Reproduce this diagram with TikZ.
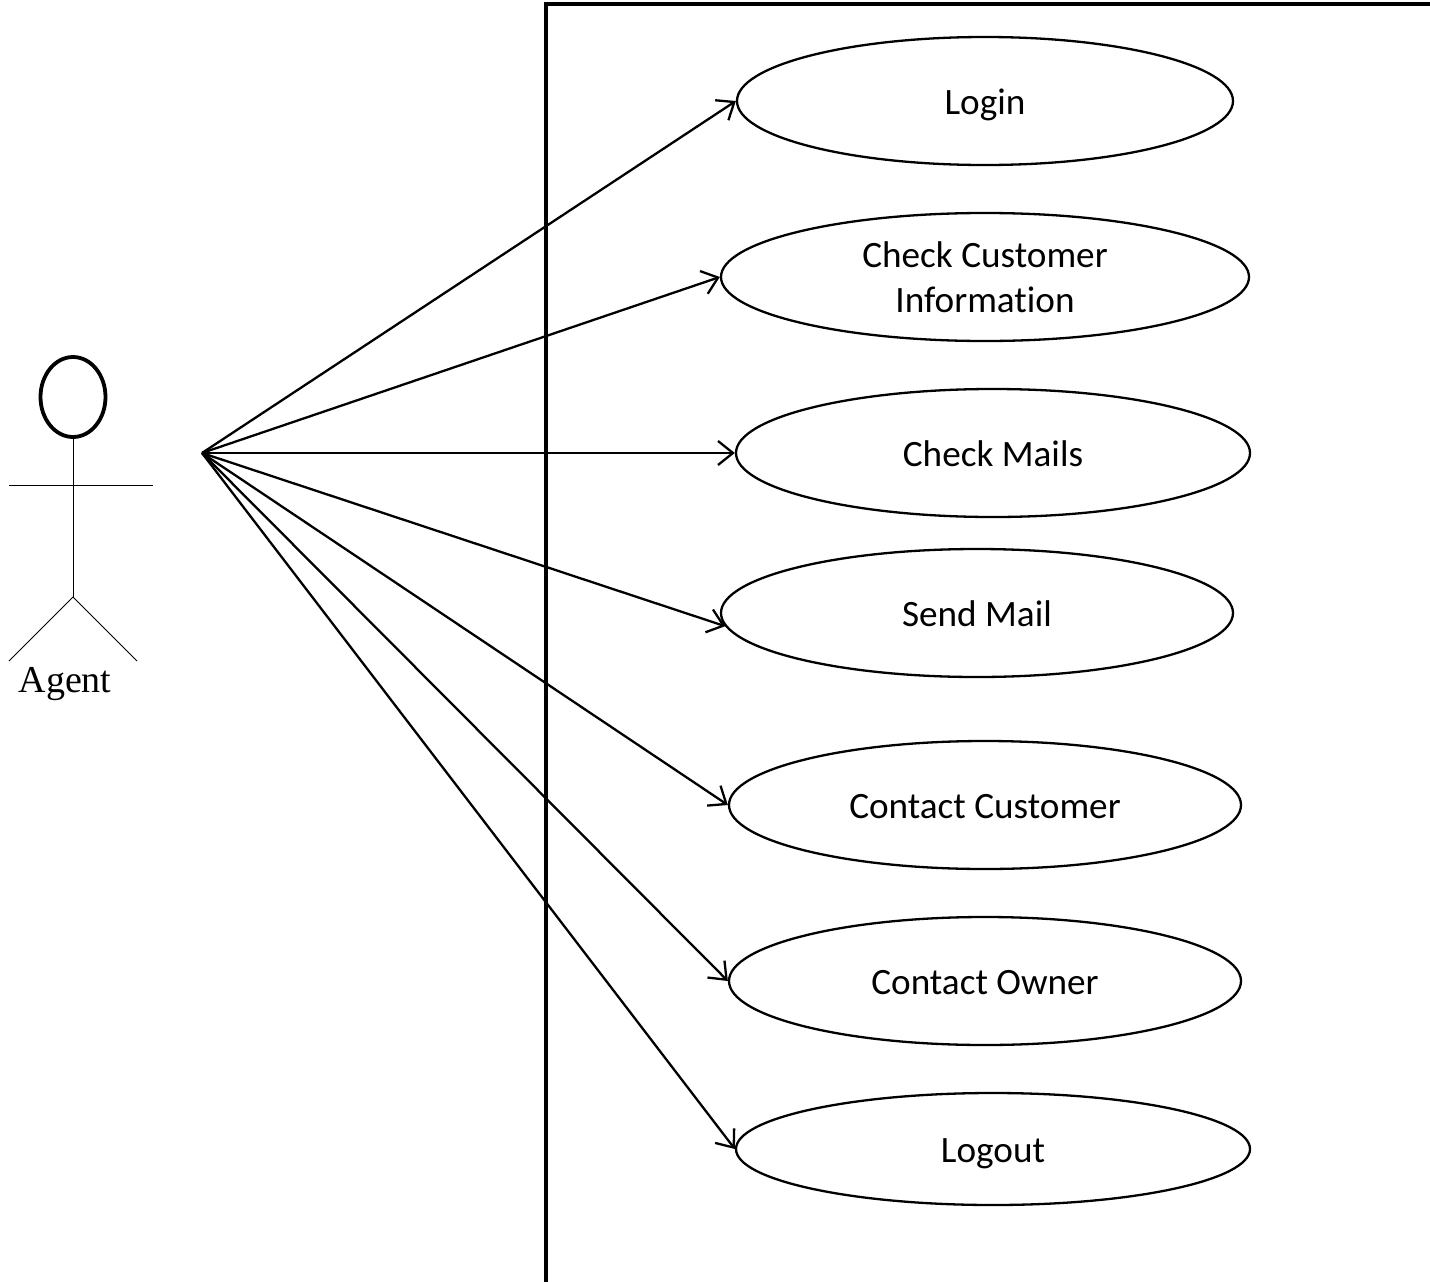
\documentclass[tikz,border=0pt]{standalone}
\usepackage{fontspec}
\setmainfont{Carlito}[Ligatures=NoCommon]
\newfontfamily\agentfont{Liberation Serif}
\usetikzlibrary{shapes.geometric,arrows.meta}
\newcommand{\onelbl}[1]{\raisebox{-13pt}[0pt][0pt]{#1}}
\tikzset{
  usecase/.style={draw=black,line width=2.3pt,ellipse,inner sep=0pt,align=center,font=\fontsize{37.2}{45}\selectfont},
  link/.style={draw=black,line width=2.3pt,-{Straight Barb[length=15pt,width=24pt,line width=2.3pt]}},
  frameline/.style={draw=black,line width=4pt},
  stick/.style={draw=black,line width=1pt}
}
\begin{document}
\begin{tikzpicture}[x=1pt,y=-1pt]
\useasboundingbox (0,0) rectangle (1430,1282);
\draw[frameline] (546,1282) -- (546,4) -- (1430,4);
\node[usecase,minimum width=496pt,minimum height=128pt] (login) at (985,101) {\onelbl{Login}};
\node[usecase,minimum width=528pt,minimum height=128pt] (check) at (985,277) {Check Customer\\Information};
\node[usecase,minimum width=514pt,minimum height=128pt] (mails) at (993,453) {\onelbl{Check Mails}};
\node[usecase,minimum width=512pt,minimum height=128pt] (send) at (977,613) {\onelbl{Send Mail}};
\node[usecase,minimum width=512pt,minimum height=128pt] (ccust) at (985,805) {\onelbl{Contact Customer}};
\node[usecase,minimum width=512pt,minimum height=128pt] (cown) at (985,981) {\onelbl{Contact Owner}};
\node[usecase,minimum width=514pt,minimum height=112pt] (logout) at (993,1149) {\onelbl{Logout}};
\coordinate (src) at (202,453);
\draw[link] (src) -- (login.west);
\draw[link] (src) -- (check.west);
\draw[link] (src) -- (mails.west);
\draw[link] (src) -- (send.183.7);
\draw[link] (src) -- (ccust.west);
\draw[link] (src) -- (cown.west);
\draw[link] (src) -- (logout.west);
\node[draw=black,line width=3.8pt,ellipse,minimum width=65pt,minimum height=80pt,inner sep=0pt] (head) at (73,397) {};
\coordinate (hip) at (73,597);
\coordinate (armL) at (9,485);
\coordinate (armR) at (153,485);
\coordinate (legL) at (9,661);
\coordinate (legR) at (137,661);
\draw[stick] (head.south) -- (hip);
\draw[stick] (armL) -- (armR);
\draw[stick] (legL) -- (hip) -- (legR);
\node[font=\agentfont\fontsize{38}{44}\selectfont,inner sep=0pt] (agent) at (65,680) {\raisebox{-12pt}[0pt][0pt]{Agent}};
\end{tikzpicture}
\end{document}
